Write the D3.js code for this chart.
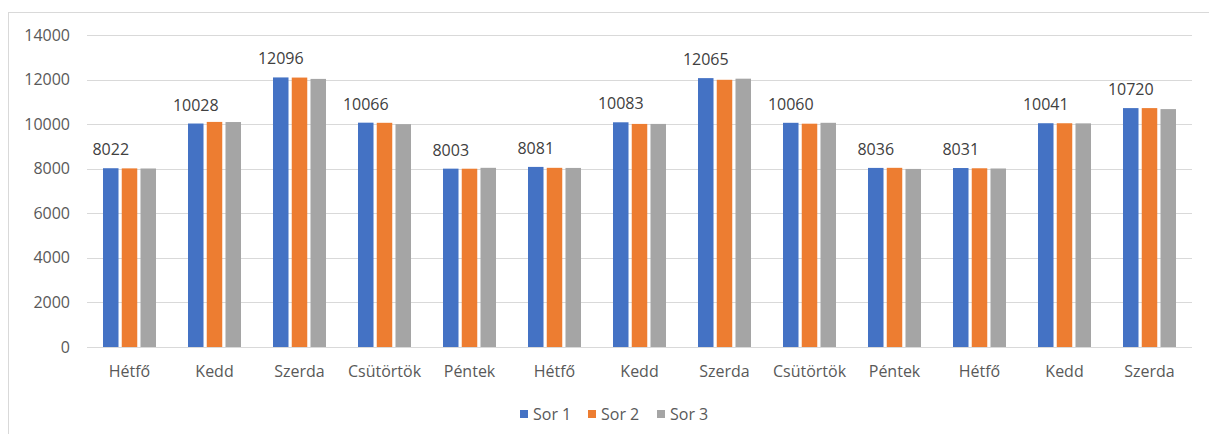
<!DOCTYPE html>
<html>
<head>
<meta charset="utf-8">
<script src="https://cdn.jsdelivr.net/npm/d3@7"></script>
<style>
  html, body { margin: 0; padding: 0; background: #fff; }
  svg { display: block; font-family: "Open Sans", "Noto Sans", sans-serif; }
</style>
</head>
<body>
<svg id="chart" width="1209" height="434"></svg>
<script>
// Day names along the axis
const categories = ["Hétfő", "Kedd", "Szerda", "Csütörtök", "Péntek",
                    "Hétfő", "Kedd", "Szerda", "Csütörtök", "Péntek",
                    "Hétfő", "Kedd", "Szerda"];
const seriesNames = ["Sor 1", "Sor 2", "Sor 3"];
const sor1 = [8022, 10028, 12096, 10066, 8003, 8081, 10083, 12065, 10060, 8036, 8031, 10041, 10720];
const sor2 = [8015, 10100, 12090, 10060, 8000, 8040, 10010, 11990, 10020, 8040, 8020, 10040, 10720];
const sor3 = [8010, 10095, 12030, 10000, 8040, 8035, 10010, 12040, 10060, 7990, 8010, 10035, 10675];
const yTicks = [0, 2000, 4000, 6000, 8000, 10000, 12000, 14000];
const colors = ["#4472C4", "#ED7D31", "#A5A5A5"];

const allSeries = [sor1, sor2, sor3];
const svg = d3.select("#chart");
const fontSize = "16px";

// Outer chart frame
svg.append("rect")
  .attr("x", 8.5).attr("y", 12.5)
  .attr("width", 1220).attr("height", 440)
  .attr("fill", "none").attr("stroke", "#D9D9D9").attr("stroke-width", 1);

const plotLeft = 87, plotRight = 1192, plotTop = 35, plotBottom = 347;

const y = d3.scaleLinear().domain([0, 14000]).range([plotBottom, plotTop]);
const x0 = d3.scaleBand().domain(d3.range(categories.length)).range([plotLeft, plotRight]).padding(0);
const groupHalf = 26.5;
const x1 = d3.scaleBand().domain(d3.range(seriesNames.length))
  .range([x0.bandwidth() / 2 - groupHalf, x0.bandwidth() / 2 + groupHalf])
  .paddingInner(0.173).paddingOuter(0);

// Gridlines
svg.append("g").selectAll("line").data(yTicks).join("line")
  .attr("x1", plotLeft).attr("x2", plotRight)
  .attr("y1", d => Math.round(y(d)) + 0.5).attr("y2", d => Math.round(y(d)) + 0.5)
  .attr("stroke", "#D9D9D9").attr("stroke-width", 1);

// Y axis labels
const yAxis = d3.axisLeft(y).tickValues(yTicks).tickSize(0).tickPadding(0).tickFormat(d3.format("d"));
const gy = svg.append("g").attr("transform", `translate(${70},0)`).call(yAxis);
gy.select(".domain").remove();
gy.selectAll("text")
  .attr("fill", "#595959").attr("font-size", fontSize)
  .attr("font-family", "\"Open Sans\", \"Noto Sans\", sans-serif");

// Bars
const groups = svg.append("g").selectAll("g").data(categories).join("g")
  .attr("transform", (d, i) => `translate(${x0(i)},0)`);

groups.selectAll("rect")
  .data((d, i) => allSeries.map((s, k) => ({ k, v: s[i] })))
  .join("rect")
  .attr("x", d => x1(d.k))
  .attr("width", x1.bandwidth())
  .attr("y", d => y(d.v))
  .attr("height", d => y(0) - y(d.v))
  .attr("fill", d => colors[d.k]);

// Value labels above the first series
svg.append("g").selectAll("text").data(sor1).join("text")
  .attr("x", (d, i) => x0(i) + x1(0) + x1.bandwidth() / 2)
  .attr("y", d => y(d) - 13)
  .attr("text-anchor", "middle")
  .attr("fill", "#404040").attr("font-size", fontSize)
  .text(d => d);

// Category axis labels
const xAxis = d3.axisBottom(x0).tickSize(0).tickPadding(0).tickFormat(i => categories[i]);
const gx = svg.append("g").attr("transform", `translate(0,${plotBottom + 19})`).call(xAxis);
gx.select(".domain").remove();
gx.selectAll("text")
  .attr("fill", "#595959").attr("font-size", fontSize)
  .attr("font-family", "\"Open Sans\", \"Noto Sans\", sans-serif");

// Legend
const legendX = [520, 588, 657];
const legend = svg.append("g").selectAll("g").data(seriesNames).join("g")
  .attr("transform", (d, i) => `translate(${legendX[i]},414)`);
legend.append("rect")
  .attr("x", 0).attr("y", -4).attr("width", 8).attr("height", 8)
  .attr("fill", (d, i) => colors[i]);
legend.append("text")
  .attr("x", 13).attr("y", 0).attr("dy", "0.35em")
  .attr("fill", "#595959").attr("font-size", fontSize)
  .text(d => d);
</script>
</body>
</html>
